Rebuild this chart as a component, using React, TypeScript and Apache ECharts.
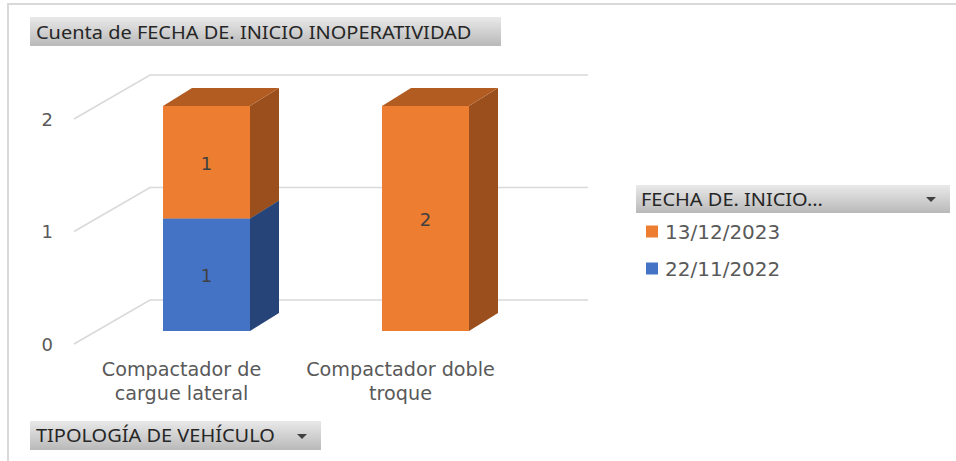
import React, { useEffect, useRef } from "react";
import * as echarts from "echarts";

const categories = ["Compactador de\ncargue lateral", "Compactador doble\ntroque"];
const seriesBlueName = "22/11/2022";
const seriesOrangeName = "13/12/2023";
const blueValues = [1, 0];
const orangeValues = [1, 2];
const gridValues = [0, 1, 2];
const titleText = "Cuenta de FECHA DE. INICIO INOPERATIVIDAD";
const legendHeader = "FECHA DE. INICIO...";
const axisHeader = "TIPOLOGÍA DE VEHÍCULO";

const BLUE = { front: "#4472c4", side: "#264478", top: "#335aa0" };
const ORANGE = { front: "#ed7d31", side: "#9a4f1c", top: "#b35c22" };
const DEPTH_X = 29;
const DEPTH_Y = 18;
const BAR_W = 87;
const SHIFT_X = 25;
const SHIFT_Y = -13;
const WALL_X = 78;
const WALL_Y = 44;
const TEXT = "#595959";
const HEAD_FONT = "'Noto Sans', sans-serif";
const BODY_FONT = "'DejaVu Sans', sans-serif";

const headGrad = () => new echarts.graphic.LinearGradient(0, 0, 0, 1, [
  { offset: 0, color: "#e9e9e9" },
  { offset: 1, color: "#b9b9b9" },
]);

function barSeries(name: string, values: number[], below: number[], pal: typeof BLUE) {
  return {
    type: "custom",
    name,
    z: 3,
    clip: false,
    itemStyle: { color: pal.front },
    encode: { x: 0, y: 1 },
    data: values.map((v, i) => [i, v]),
    renderItem: (_: any, api: any) => {
      const i = api.value(0);
      const v = api.value(1);
      if (!v) return { type: "group", children: [] };
      const c = api.coord([i, below[i] + v]);
      const b = api.coord([i, below[i]]);
      const x0 = c[0] + SHIFT_X - BAR_W / 2;
      const x1 = x0 + BAR_W;
      const yt = c[1] + SHIFT_Y;
      const yb = b[1] + SHIFT_Y;
      return {
        type: "group",
        children: [
          { type: "polygon", shape: { points: [[x1, yb], [x1 + DEPTH_X, yb - DEPTH_Y], [x1 + DEPTH_X, yt - DEPTH_Y], [x1, yt]] }, style: { fill: pal.side } },
          { type: "polygon", shape: { points: [[x0, yt], [x0 + DEPTH_X, yt - DEPTH_Y], [x1 + DEPTH_X, yt - DEPTH_Y], [x1, yt]] }, style: { fill: pal.top } },
          { type: "rect", shape: { x: x0, y: yt, width: BAR_W, height: yb - yt }, style: { fill: pal.front } },
          { type: "text", style: { x: (x0 + x1) / 2, y: (yt + yb) / 2 + 1, text: String(v), fill: "#404040", font: `18px ${BODY_FONT}`, align: "center", verticalAlign: "middle" } },
        ],
      };
    },
  };
}

export default function App() {
  const ref = useRef<HTMLDivElement>(null);
  useEffect(() => {
    const chart = echarts.init(ref.current!, null, { renderer: "svg" });
    chart.setOption({
      animation: false,
      backgroundColor: "#ffffff",
      grid: { left: 72, right: 446, top: 119, bottom: 117 },
      xAxis: {
        type: "category",
        data: categories,
        axisLine: { show: false },
        axisTick: { show: false },
        axisLabel: { color: TEXT, fontFamily: BODY_FONT, fontSize: 19.2, lineHeight: 24, margin: 13, interval: 0 },
      },
      yAxis: {
        type: "value",
        min: 0,
        max: 2,
        interval: 1,
        splitLine: { show: false },
        axisLine: { show: false },
        axisTick: { show: false },
        axisLabel: { color: TEXT, fontFamily: BODY_FONT, fontSize: 18, margin: 19, padding: [4, 0, 0, 0] },
      },
      legend: {
        orient: "vertical",
        left: 641,
        top: 215,
        itemWidth: 12,
        itemHeight: 12,
        itemGap: 14,
        icon: "rect",
        data: [seriesOrangeName, seriesBlueName],
        textStyle: { color: TEXT, fontFamily: BODY_FONT, fontSize: 20, padding: [0, 0, 0, 2], lineHeight: 23 },
      },
      series: [
        {
          type: "custom",
          name: "grid",
          z: 1,
          clip: false,
          silent: true,
          encode: { y: 0 },
          data: gridValues.map((v) => [v]),
          renderItem: (params: any, api: any) => {
            const p = api.coord([0, api.value(0)]);
            const x0 = params.coordSys.x;
            return {
              type: "polyline",
              shape: { points: [[x0 + 2, p[1]], [x0 + WALL_X, p[1] - WALL_Y], [x0 + WALL_X + params.coordSys.width, p[1] - WALL_Y]] },
              style: { fill: "none", stroke: "#d9d9d9", lineWidth: 1.5 },
            };
          },
        },
        barSeries(seriesBlueName, blueValues, [0, 0], BLUE),
        barSeries(seriesOrangeName, orangeValues, blueValues, ORANGE),
      ],
      graphic: [
        { type: "polyline", shape: { points: [[8, 461], [8, 4], [956, 4]] }, style: { fill: "none", stroke: "#d9d9d9", lineWidth: 2 }, silent: true },
        { type: "rect", shape: { x: 30, y: 17, width: 471, height: 29 }, style: { fill: headGrad() } },
        { type: "text", x: 36, y: 32, scaleX: 1.11, style: { text: titleText, fill: "#262626", font: `18px ${HEAD_FONT}`, verticalAlign: "middle" } },
        { type: "rect", shape: { x: 636, y: 185, width: 314, height: 28 }, style: { fill: headGrad() } },
        { type: "text", x: 641, y: 199, scaleX: 1.11, style: { text: legendHeader, fill: "#262626", font: `18px ${HEAD_FONT}`, verticalAlign: "middle" } },
        { type: "polygon", shape: { points: [[926, 197], [936, 197], [931, 202]] }, style: { fill: "#404040" } },
        { type: "rect", shape: { x: 30, y: 421, width: 291, height: 29 }, style: { fill: headGrad() } },
        { type: "text", x: 36, y: 435, scaleX: 1.11, style: { text: axisHeader, fill: "#262626", font: `18px ${HEAD_FONT}`, verticalAlign: "middle" } },
        { type: "polygon", shape: { points: [[297, 434], [307, 434], [302, 439]] }, style: { fill: "#404040" } },
      ],
    });
    return () => chart.dispose();
  }, []);
  return <div ref={ref} style={{ position: "fixed", left: 0, top: 0, width: 956, height: 461 }} />;
}
